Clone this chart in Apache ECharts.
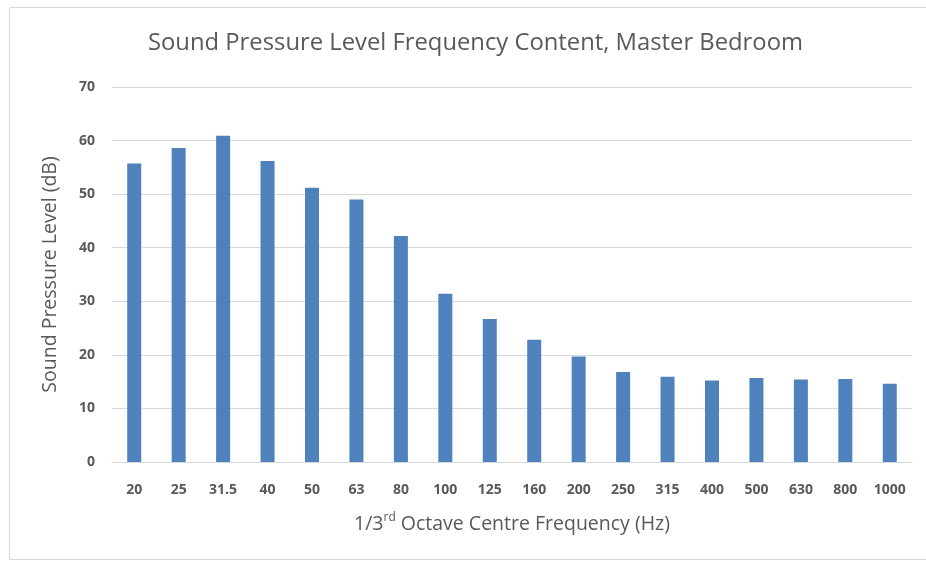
<!DOCTYPE html>
<html>
<head>
<meta charset="utf-8">
<script src="https://cdn.jsdelivr.net/npm/echarts@6/dist/echarts.min.js"></script>
<style>
html,body{margin:0;padding:0;background:#fff;}
#chart{width:926px;height:563px;}
</style>
</head>
<body>
<div id="chart"></div>
<script>
const categories = ['20','25','31.5','40','50','63','80','100','125','160','200','250','315','400','500','630','800','1000'];
const splValues = [55.7, 58.6, 60.9, 56.2, 51.2, 49.0, 42.2, 31.4, 26.7, 22.8, 19.7, 16.8, 15.9, 15.2, 15.7, 15.4, 15.5, 14.6];
const yTicks = { min: 0, max: 70, interval: 10 };
const titleText = 'Sound Pressure Level Frequency Content, Master Bedroom';
const yAxisTitle = 'Sound Pressure Level (dB)';

const chart = echarts.init(document.getElementById('chart'));
const fontFam = '"Open Sans", "Noto Sans", sans-serif';
chart.setOption({
  animation: false,
  backgroundColor: '#fff',
  graphic: [{
    type: 'rect',
    shape: { x: 9.5, y: 7.5, width: 940, height: 552 },
    style: { fill: 'none', stroke: '#d9d9d9', lineWidth: 1 },
    silent: true
  }],
  title: {
    text: titleText,
    left: 143,
    top: 26,
    textStyle: { fontFamily: fontFam, fontSize: 23.8, fontWeight: 'normal', color: '#595959' }
  },
  grid: { left: 112, right: 14, top: 87, bottom: 101 },
  xAxis: {
    type: 'category',
    data: categories,
    axisLine: { show: true, lineStyle: { color: '#d9d9d9', width: 1 } },
    axisTick: { show: false },
    axisLabel: { fontFamily: fontFam, fontSize: 14, fontWeight: 'bold', color: '#595959', margin: 21, interval: 0 },
    name: '{a|1/3}{sup|rd}{a| Octave Centre Frequency (Hz)}',
    nameLocation: 'middle',
    nameGap: 50,
    nameTextStyle: {
      rich: {
        a: { fontFamily: fontFam, fontSize: 19.5, color: '#595959', verticalAlign: 'bottom' },
        sup: { fontFamily: fontFam, fontSize: 12, color: '#595959', verticalAlign: 'top', padding: [0, 0, 10, 0] }
      }
    }
  },
  yAxis: {
    type: 'value',
    min: yTicks.min,
    max: yTicks.max,
    interval: yTicks.interval,
    axisLine: { show: false },
    axisTick: { show: false },
    splitLine: { lineStyle: { color: '#d9d9d9', width: 1 } },
    axisLabel: { fontFamily: fontFam, fontSize: 14, fontWeight: 'bold', color: '#595959', margin: 17 },
    name: yAxisTitle,
    nameLocation: 'middle',
    nameGap: 52,
    nameTextStyle: { fontFamily: fontFam, fontSize: 19.5, color: '#595959' }
  },
  series: [{
    type: 'bar',
    data: splValues,
    barWidth: 14,
    itemStyle: { color: '#4F81BD' }
  }]
});
</script>
</body>
</html>
